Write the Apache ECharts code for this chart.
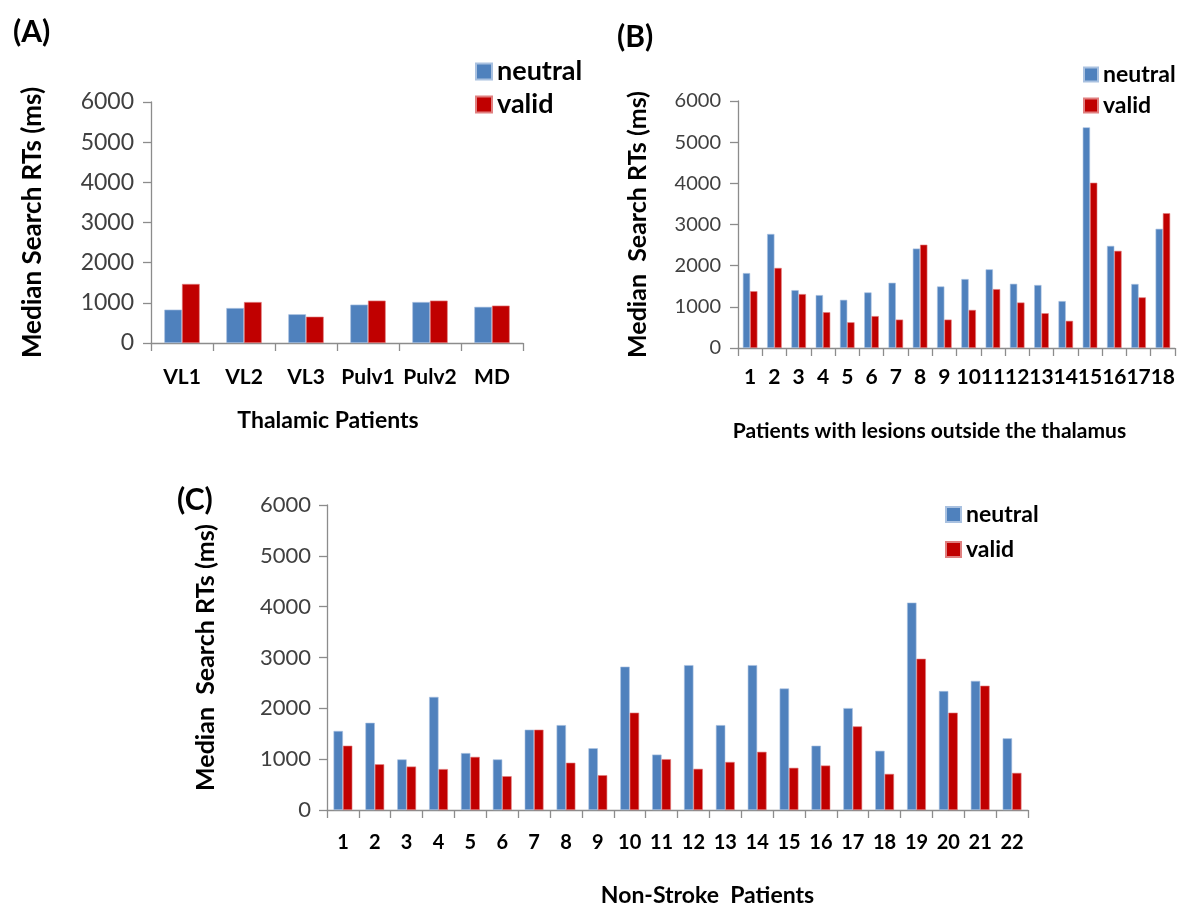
<!DOCTYPE html>
<html>
<head>
<meta charset="utf-8">
<script src="https://cdn.jsdelivr.net/npm/echarts@6/dist/echarts.min.js"></script>
<style>html,body{margin:0;padding:0;background:#fff}#c{width:1177px;height:909px}</style>
</head>
<body>
<div id="c"></div>
<script>
// Panel A: thalamic patients
var catsA = ['VL1', 'VL2', 'VL3', 'Pulv1', 'Pulv2', 'MD'];
var neutralA = [830, 870, 715, 955, 1020, 900];
var validA = [1470, 1020, 655, 1055, 1055, 930];

// Panel B: patients with lesions outside the thalamus
var catsB = ['1','2','3','4','5','6','7','8','9','10','11','12','13','14','15','16','17','18'];
var neutralB = [1820, 2770, 1405, 1285, 1170, 1350, 1585, 2415, 1495, 1675, 1910, 1560, 1530, 1140, 5360, 2480, 1555, 2895];
var validB = [1380, 1945, 1310, 870, 625, 775, 690, 2510, 690, 925, 1430, 1105, 845, 660, 4015, 2360, 1230, 3275];

// Panel C: non-stroke patients
var catsC = ['1','2','3','4','5','6','7','8','9','10','11','12','13','14','15','16','17','18','19','20','21','22'];
var neutralC = [1555, 1715, 995, 2225, 1120, 995, 1580, 1670, 1215, 2820, 1090, 2850, 1670, 2850, 2390, 1265, 2005, 1165, 4080, 2340, 2540, 1410];
var validC = [1265, 900, 855, 805, 1045, 665, 1580, 930, 685, 1915, 1000, 810, 945, 1145, 830, 875, 1645, 710, 2975, 1915, 2445, 730];

var yTicks = [0, 1000, 2000, 3000, 4000, 5000, 6000];

var BLUE = '#4F81BD', RED = '#C00000', AX = '#8c8c8c';
var FONT = 'Lato, "Open Sans", sans-serif';

function yAxis(idx, fs, margin, name, gap, nfs) {
  return {
    type: 'value', gridIndex: idx, min: yTicks[0], max: yTicks[yTicks.length - 1], interval: 1000,
    splitLine: {show: false},
    axisLine: {show: true, lineStyle: {color: AX, width: 1.3}},
    axisTick: {show: true, length: 8, lineStyle: {color: AX, width: 1.3}},
    axisLabel: {fontSize: fs, color: '#404040', fontFamily: FONT, margin: margin, formatter: function (v) { return String(v); }},
    name: name, nameLocation: 'middle', nameRotate: 90, nameGap: gap,
    nameTextStyle: {fontSize: nfs, fontWeight: 'bold', color: '#000', fontFamily: FONT}
  };
}
function xAxis(idx, cats, fs, margin, name, gap, nfs, pad) {
  return {
    type: 'category', gridIndex: idx, data: cats,
    axisLine: {show: true, lineStyle: {color: AX, width: 1.3}},
    axisTick: {show: true, length: 8, lineStyle: {color: AX, width: 1.3}},
    axisLabel: {fontSize: fs, fontWeight: 'bold', color: '#000', fontFamily: FONT, margin: margin, interval: 0, hideOverlap: false},
    name: name, nameLocation: 'middle', nameGap: gap,
    nameTextStyle: {fontSize: nfs, fontWeight: 'bold', color: '#000', fontFamily: FONT, padding: pad}
  };
}
function bars(idx, n, v, gap) {
  return [
    {type: 'bar', name: 'neutral', xAxisIndex: idx, yAxisIndex: idx, data: n, barGap: '0%', barCategoryGap: gap,
     itemStyle: {color: BLUE, borderColor: '#a9c1e0', borderWidth: 0.6}},
    {type: 'bar', name: 'valid', xAxisIndex: idx, yAxisIndex: idx, data: v, barGap: '0%', barCategoryGap: gap,
     itemStyle: {color: RED, borderColor: '#e08080', borderWidth: 0.6}}
  ];
}
function legend(left, top, fs, size, gap) {
  return {
    data: ['neutral', 'valid'], orient: 'vertical', left: left, top: top, icon: 'rect',
    itemWidth: size, itemHeight: size, itemGap: gap, padding: 0,
    textStyle: {fontSize: fs, fontWeight: 'bold', color: '#000', fontFamily: FONT}
  };
}

var chart = echarts.init(document.getElementById('c'));
chart.setOption({
  animation: false,
  textStyle: {fontFamily: FONT},
  title: [
    {text: '(A)', left: 8, top: 12, textStyle: {fontSize: 30, fontWeight: 'bold', color: '#000', fontFamily: FONT}},
    {text: '(B)', left: 612, top: 17, textStyle: {fontSize: 30, fontWeight: 'bold', color: '#000', fontFamily: FONT}},
    {text: '(C)', left: 172, top: 480, textStyle: {fontSize: 30, fontWeight: 'bold', color: '#000', fontFamily: FONT}}
  ],
  legend: [
    legend(475, 58, 27, 16, 6),
    legend(1083, 63, 23, 14, 8),
    legend(945, 503, 23, 15, 12)
  ],
  grid: [
    {left: 151, width: 372, top: 102, height: 241, outerBoundsMode: 'none'},
    {left: 738, width: 437, top: 101, height: 247, outerBoundsMode: 'none'},
    {left: 327, width: 701, top: 505, height: 305, outerBoundsMode: 'none'}
  ],
  xAxis: [
    xAxis(0, catsA, 21, 24, 'Thalamic Patients', 66, 23, [0, 18, 0, 0]),
    xAxis(1, catsB, 21, 19, 'Patients with lesions outside the thalamus', 73, 21, [0, 54, 0, 0]),
    xAxis(2, catsC, 20, 23, 'Non-Stroke  Patients', 74, 23, [0, 0, 0, 60])
  ],
  yAxis: [
    yAxis(0, 23, 17, 'Median Search RTs (ms)', 105, 26),
    yAxis(1, 20, 17, 'Median  Search RTs (ms)', 88, 25),
    yAxis(2, 22, 16, 'Median  Search RTs (ms)', 109, 25)
  ],
  series: [].concat(bars(0, neutralA, validA, '43%'), bars(1, neutralB, validB, '40%'), bars(2, neutralC, validC, '41%'))
});
</script>
</body>
</html>
